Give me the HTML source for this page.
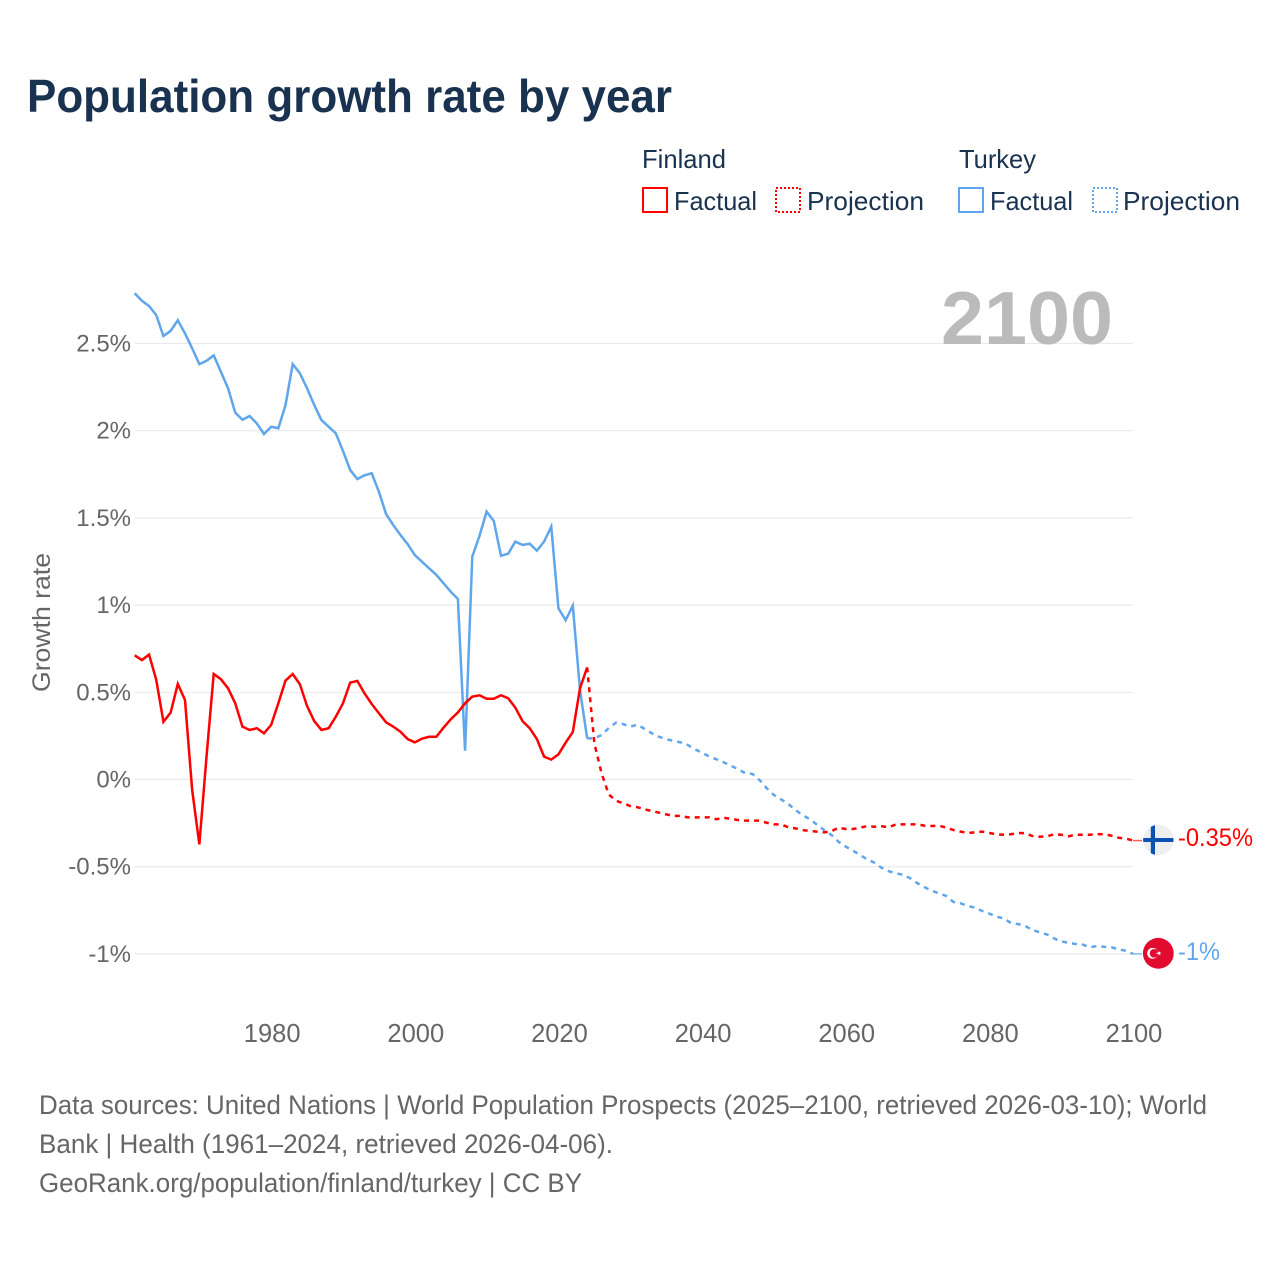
<!DOCTYPE html>
<html lang="en">
<head>
<meta charset="utf-8">
<title>Population growth rate by year</title>
<style>
html,body{margin:0;padding:0;background:#fff;}
svg{display:block;}
text{font-family:"Liberation Sans",sans-serif;}
</style>
</head>
<body>
<svg id="chart" width="1280" height="1280" viewBox="0 0 1280 1280" xmlns="http://www.w3.org/2000/svg">
  <rect x="0" y="0" width="1280" height="1280" fill="#fff"/>
  <text x="27" y="112" font-size="46" font-weight="700" fill="#18324f" textLength="645" lengthAdjust="spacingAndGlyphs">Population growth rate by year</text>

  <g>
    <text x="642" y="168" font-size="26" fill="#18324f" textLength="84" lengthAdjust="spacingAndGlyphs">Finland</text>
    <text x="959" y="168" font-size="26" fill="#18324f" textLength="77" lengthAdjust="spacingAndGlyphs">Turkey</text>
    <g>
      <rect x="643" y="188" width="24" height="24" fill="none" stroke="#ff0000" stroke-width="2"/>
      <text x="674" y="210" font-size="26" fill="#18324f" textLength="83" lengthAdjust="spacingAndGlyphs">Factual</text>
    </g>
    <g>
      <rect x="776" y="188" width="24" height="24" fill="none" stroke="#ff0000" stroke-width="2" stroke-dasharray="2 2"/>
      <text x="807" y="210" font-size="26" fill="#18324f" textLength="117" lengthAdjust="spacingAndGlyphs">Projection</text>
    </g>
    <g>
      <rect x="959" y="188" width="24" height="24" fill="none" stroke="#5fa6ec" stroke-width="2"/>
      <text x="990" y="210" font-size="26" fill="#18324f" textLength="83" lengthAdjust="spacingAndGlyphs">Factual</text>
    </g>
    <g>
      <rect x="1093" y="188" width="24" height="24" fill="none" stroke="#5fa6ec" stroke-width="2" stroke-dasharray="2 2"/>
      <text x="1123" y="210" font-size="26" fill="#18324f" textLength="117" lengthAdjust="spacingAndGlyphs">Projection</text>
    </g>
  </g>

  <g id="grid"></g>
  <g id="yticks"></g>
  <g id="xticks"></g>

  <text transform="translate(50,692) rotate(-90)" font-size="25" fill="#666" textLength="139" lengthAdjust="spacingAndGlyphs">Growth rate</text>
  <text x="941" y="344" font-size="75" font-weight="700" fill="#bbbbbb" textLength="172" lengthAdjust="spacingAndGlyphs">2100</text>

  <g id="series"></g>

  <defs>
    <clipPath id="finland-clip"><circle cx="1158.3" cy="840" r="15.2"/></clipPath>
    <clipPath id="turkey-clip"><circle cx="1158.3" cy="953.3" r="15.4"/></clipPath>
  </defs>
  <g id="flag-finland" clip-path="url(#finland-clip)">
    <rect x="1140" y="820" width="40" height="40" fill="#eeeeee"/>
    <rect x="1140" y="838" width="40" height="4" fill="#0b53b3"/>
    <rect x="1150.8" y="820" width="4.2" height="40" fill="#0b53b3"/>
  </g>
  <g id="flag-turkey" clip-path="url(#turkey-clip)">
    <rect x="1140" y="935" width="40" height="40" fill="#e30a2f"/>
    <circle cx="1152.6" cy="953.3" r="5.4" fill="#fff"/>
    <circle cx="1154" cy="953.3" r="4.3" fill="#e30a2f"/>
    <polygon points="1155.6,953.3 1158.8,952.3 1158.8,950.9 1159.8,952.3 1161,952.3 1160,953.3 1161,954.4 1159.8,954.4 1158.8,955.7 1158.8,954.3" fill="#fff"/>
  </g>
  <text id="label-finland" x="1178" y="846" font-size="25" fill="#ff0000" textLength="75" lengthAdjust="spacingAndGlyphs"></text>
  <text id="label-turkey" x="1178" y="960" font-size="25" fill="#5fa6ec" textLength="42" lengthAdjust="spacingAndGlyphs"></text>

  <g>
    <text x="39" y="1114" font-size="26.5" fill="#666" textLength="1168" lengthAdjust="spacingAndGlyphs">Data sources: United Nations | World Population Prospects (2025–2100, retrieved 2026-03-10); World</text>
    <text x="39" y="1153" font-size="26.5" fill="#666" textLength="574" lengthAdjust="spacingAndGlyphs">Bank | Health (1961–2024, retrieved 2026-04-06).</text>
    <text x="39" y="1192" font-size="26.5" fill="#666" textLength="543" lengthAdjust="spacingAndGlyphs">GeoRank.org/population/finland/turkey | CC BY</text>
  </g>
</svg>

<script>
const xTickYears = [1980, 2000, 2020, 2040, 2060, 2080, 2100];
const yTickValues = [2.5, 2, 1.5, 1, 0.5, 0, -0.5, -1];
const factualStartYear = 1961;
const projectionStartYear = 2024;

const turkeyFactual = [2.788,2.745,2.715,2.663,2.543,2.572,2.633,2.558,2.472,2.382,2.401,2.432,2.338,2.243,2.103,2.063,2.084,2.042,1.981,2.023,2.014,2.147,2.382,2.329,2.243,2.147,2.061,2.023,1.985,1.884,1.775,1.723,1.744,1.756,1.650,1.522,1.459,1.402,1.350,1.287,1.249,1.211,1.173,1.125,1.077,1.035,0.165,1.278,1.396,1.536,1.482,1.283,1.295,1.364,1.345,1.352,1.312,1.364,1.450,0.982,0.913,0.997,0.513,0.236];

const turkeyProjection = [0.236,0.236,0.255,0.295,0.326,0.318,0.303,0.314,0.290,0.265,0.245,0.231,0.222,0.213,0.198,0.173,0.154,0.131,0.116,0.099,0.079,0.060,0.036,0.032,-0.003,-0.050,-0.089,-0.114,-0.140,-0.175,-0.204,-0.228,-0.259,-0.290,-0.318,-0.357,-0.385,-0.408,-0.433,-0.458,-0.477,-0.506,-0.526,-0.538,-0.546,-0.567,-0.595,-0.618,-0.638,-0.653,-0.668,-0.702,-0.710,-0.725,-0.735,-0.754,-0.769,-0.787,-0.796,-0.823,-0.829,-0.840,-0.863,-0.876,-0.888,-0.911,-0.928,-0.936,-0.943,-0.947,-0.962,-0.955,-0.959,-0.962,-0.974,-0.982,-1];

const finlandFactual = [0.712,0.685,0.716,0.571,0.331,0.383,0.548,0.456,-0.060,-0.372,0.131,0.605,0.575,0.523,0.437,0.303,0.284,0.294,0.265,0.313,0.437,0.567,0.605,0.546,0.421,0.335,0.284,0.294,0.360,0.437,0.555,0.565,0.494,0.433,0.380,0.328,0.303,0.274,0.232,0.213,0.234,0.245,0.245,0.297,0.345,0.385,0.437,0.475,0.483,0.463,0.463,0.483,0.466,0.412,0.335,0.294,0.232,0.131,0.114,0.144,0.211,0.272,0.523,0.643];

const finlandProjection = [0.643,0.208,0.036,-0.085,-0.122,-0.136,-0.152,-0.159,-0.171,-0.181,-0.190,-0.200,-0.208,-0.209,-0.217,-0.217,-0.217,-0.217,-0.228,-0.219,-0.226,-0.232,-0.236,-0.236,-0.236,-0.248,-0.257,-0.257,-0.274,-0.280,-0.290,-0.295,-0.299,-0.303,-0.297,-0.276,-0.284,-0.284,-0.276,-0.267,-0.271,-0.268,-0.274,-0.257,-0.257,-0.257,-0.257,-0.265,-0.267,-0.265,-0.276,-0.290,-0.299,-0.307,-0.303,-0.299,-0.307,-0.314,-0.317,-0.314,-0.307,-0.308,-0.324,-0.328,-0.326,-0.314,-0.317,-0.326,-0.317,-0.317,-0.317,-0.313,-0.314,-0.322,-0.334,-0.339,-0.35];

const finlandEndLabel = "-0.35%";
const turkeyEndLabel = "-1%";

const SVGNS = "http://www.w3.org/2000/svg";
function xScale(year) { return 1133 - (2100 - year) * 7.182; }
function yScale(value) { return 779.5 - value * 174.4; }
function pathFor(values, startYear) {
  return values.map(function (v, i) {
    return (i ? "L" : "M") + xScale(startYear + i).toFixed(2) + " " + yScale(v).toFixed(2);
  }).join("");
}

const gridGroup = document.getElementById("grid");
const yTickGroup = document.getElementById("yticks");
yTickValues.forEach(function (v) {
  const line = document.createElementNS(SVGNS, "line");
  
  
  line.setAttribute("x1", xScale(factualStartYear));
  line.setAttribute("x2", xScale(2100));
  line.setAttribute("y1", yScale(v));
  line.setAttribute("y2", yScale(v));
  line.setAttribute("stroke", "#e9e9e9");
  line.setAttribute("stroke-width", "1.2");
  gridGroup.appendChild(line);

  const label = document.createElementNS(SVGNS, "text");
  
  
  label.setAttribute("x", 131);
  label.setAttribute("y", yScale(v) + 8);
  label.setAttribute("text-anchor", "end");
  label.setAttribute("font-size", "24");
  label.setAttribute("fill", "#666");
  label.textContent = v + "%";
  yTickGroup.appendChild(label);
});

const xTickGroup = document.getElementById("xticks");
xTickYears.forEach(function (year) {
  const label = document.createElementNS(SVGNS, "text");
  
  
  label.setAttribute("x", xScale(year) + 1);
  label.setAttribute("y", 1042);
  label.setAttribute("text-anchor", "middle");
  label.setAttribute("font-size", "25.5");
  label.setAttribute("fill", "#666");
  label.textContent = String(year);
  xTickGroup.appendChild(label);
});

const seriesGroup = document.getElementById("series");

const turkeyProjectionPath = document.createElementNS(SVGNS, "path");


turkeyProjectionPath.setAttribute("d", pathFor(turkeyProjection, projectionStartYear));
turkeyProjectionPath.setAttribute("fill", "none");
turkeyProjectionPath.setAttribute("stroke", "#5fa6ec");
turkeyProjectionPath.setAttribute("stroke-width", "2.5");
turkeyProjectionPath.setAttribute("stroke-dasharray", "5 5");
seriesGroup.appendChild(turkeyProjectionPath);

const turkeyFactualPath = document.createElementNS(SVGNS, "path");


turkeyFactualPath.setAttribute("d", pathFor(turkeyFactual, factualStartYear));
turkeyFactualPath.setAttribute("fill", "none");
turkeyFactualPath.setAttribute("stroke", "#5fa6ec");
turkeyFactualPath.setAttribute("stroke-width", "2.5");
seriesGroup.appendChild(turkeyFactualPath);

const finlandProjectionPath = document.createElementNS(SVGNS, "path");


finlandProjectionPath.setAttribute("d", pathFor(finlandProjection, projectionStartYear));
finlandProjectionPath.setAttribute("fill", "none");
finlandProjectionPath.setAttribute("stroke", "#ff0000");
finlandProjectionPath.setAttribute("stroke-width", "2.5");
finlandProjectionPath.setAttribute("stroke-dasharray", "5 5");
seriesGroup.appendChild(finlandProjectionPath);

const finlandFactualPath = document.createElementNS(SVGNS, "path");


finlandFactualPath.setAttribute("d", pathFor(finlandFactual, factualStartYear));
finlandFactualPath.setAttribute("fill", "none");
finlandFactualPath.setAttribute("stroke", "#ff0000");
finlandFactualPath.setAttribute("stroke-width", "2.5");
seriesGroup.appendChild(finlandFactualPath);

const finlandEndY = yScale(finlandProjection[finlandProjection.length - 1]);
const turkeyEndY = yScale(turkeyProjection[turkeyProjection.length - 1]);

const finlandConnector = document.createElementNS(SVGNS, "line");


finlandConnector.setAttribute("x1", xScale(2100));
finlandConnector.setAttribute("x2", xScale(2100) + 9);
finlandConnector.setAttribute("y1", finlandEndY);
finlandConnector.setAttribute("y2", finlandEndY);
finlandConnector.setAttribute("stroke", "#ff0000");
finlandConnector.setAttribute("stroke-opacity", "0.65");
finlandConnector.setAttribute("stroke-width", "1.5");
seriesGroup.appendChild(finlandConnector);

const turkeyConnector = document.createElementNS(SVGNS, "line");


turkeyConnector.setAttribute("x1", xScale(2100));
turkeyConnector.setAttribute("x2", xScale(2100) + 9);
turkeyConnector.setAttribute("y1", turkeyEndY);
turkeyConnector.setAttribute("y2", turkeyEndY);
turkeyConnector.setAttribute("stroke", "#5fa6ec");
turkeyConnector.setAttribute("stroke-opacity", "0.8");
turkeyConnector.setAttribute("stroke-width", "1.5");
seriesGroup.appendChild(turkeyConnector);

document.getElementById("label-finland").textContent = finlandEndLabel;
document.getElementById("label-turkey").textContent = turkeyEndLabel;
</script>
</body>
</html>
